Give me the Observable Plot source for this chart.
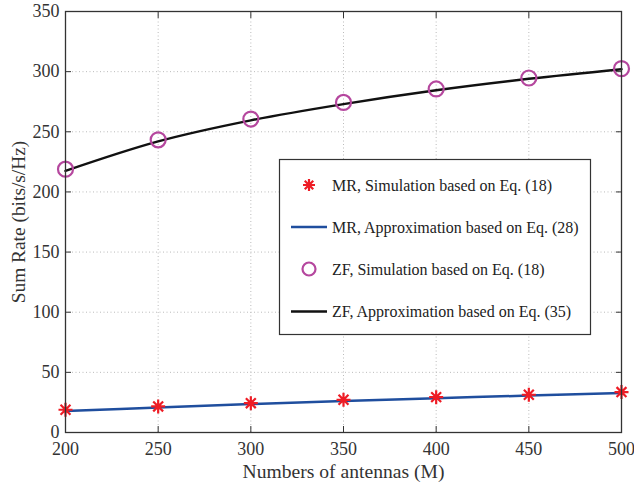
<!DOCTYPE html>
<html><head><meta charset="utf-8">
<script src="https://cdn.jsdelivr.net/npm/d3@7"></script>
<script src="https://cdn.jsdelivr.net/npm/@observablehq/plot@0.6"></script>
<style>body{margin:0;background:#fff}</style>
</head><body><div id="chart"></div>
<script>
const antennas = [200, 250, 300, 350, 400, 450, 500];
const mrSim = [18.9, 21.7, 24.4, 27.2, 29.4, 31.4, 33.6];
const mrApprox = [17.8, 20.8, 23.6, 26.2, 28.5, 30.7, 32.8];
const zfSim = [218.9, 243.3, 260.6, 274.4, 285.6, 294.7, 302.5];
const zfApprox = [217.5, 242, 259.5, 273, 284.5, 294, 302];
const xTicks = [200, 250, 300, 350, 400, 450, 500];
const yTicks = [0, 50, 100, 150, 200, 250, 300, 350];
const legendLabels = [
  "MR, Simulation based on Eq. (18)",
  "MR, Approximation based on Eq. (28)",
  "ZF, Simulation based on Eq. (18)",
  "ZF, Approximation based on Eq. (35)"
];
const xLabel = "Numbers of antennas (M)";
const yLabel = "Sum Rate (bits/s/Hz)";

const RED = "#ee1c25", BLUE = "#1f4e9e", MAG = "#b5479e", BLACK = "#111111", AX = "#333333";
const FONT = "'Liberation Serif', 'Times New Roman', serif";

const rows = (ys) => antennas.map((x, i) => ({x, y: ys[i]}));
const asterisk = {
  draw(ctx, size) {
    const r = Math.sqrt(size / Math.PI);
    for (let k = 0; k < 4; k++) {
      const a = k * Math.PI / 4;
      ctx.moveTo(-r * Math.cos(a), -r * Math.sin(a));
      ctx.lineTo(r * Math.cos(a), r * Math.sin(a));
    }
  }
};

const chart = Plot.plot({
  width: 634, height: 484,
  marginLeft: 65, marginRight: 13, marginTop: 11, marginBottom: 52,
  style: {fontFamily: FONT, fontSize: "18px", color: AX, background: "#fff"},
  x: {domain: [200, 500]},
  y: {domain: [0, 350]},
  marks: [
    Plot.gridX(xTicks, {stroke: "#bbbbbb", strokeOpacity: 1, strokeDasharray: "1,2.5"}),
    Plot.gridY(yTicks, {stroke: "#bbbbbb", strokeOpacity: 1, strokeDasharray: "1,2.5"}),
    Plot.line(rows(mrApprox), {x: "x", y: "y", stroke: BLUE, strokeWidth: 2.5, curve: "catmull-rom"}),
    Plot.line(rows(zfApprox), {x: "x", y: "y", stroke: BLACK, strokeWidth: 2.5, curve: "catmull-rom"}),
    Plot.dot(rows(mrSim), {x: "x", y: "y", symbol: asterisk, r: 7, stroke: RED, strokeWidth: 2.2, fill: "none"}),
    Plot.dot(rows(zfSim), {x: "x", y: "y", symbol: "circle", r: 7.5, stroke: MAG, strokeWidth: 2.2, fill: "none"}),
    Plot.frame({stroke: AX, strokeWidth: 1.3}),
    Plot.axisX(xTicks, {anchor: "bottom", tickSize: -6, tickPadding: 16, fontSize: 18, fill: AX, stroke: AX, label: null}),
    Plot.axisX(xTicks, {anchor: "top", tickSize: -6, tickFormat: () => "", stroke: AX, label: null}),
    Plot.axisY(yTicks, {anchor: "left", tickSize: -6, tickPadding: 12, fontSize: 18, fill: AX, stroke: AX, label: null}),
    Plot.axisY(yTicks, {anchor: "right", tickSize: -6, tickFormat: () => "", stroke: AX, label: null}),
    Plot.text([xLabel], {frameAnchor: "bottom", dy: 39, textAnchor: "middle", lineAnchor: "middle", fontSize: 19.6, fill: AX}),
    Plot.text([yLabel], {frameAnchor: "left", dx: -47, rotate: -90, textAnchor: "middle", lineAnchor: "middle", fontSize: 19.4, fill: AX})
  ]
});
document.getElementById("chart").appendChild(chart);

// Legend inside the plot area
const svg = d3.select(chart);
const g = svg.append("g").attr("font-family", FONT).attr("font-size", 16).attr("text-anchor", "start");
g.append("rect").attr("x", 279.5).attr("y", 159.5).attr("width", 311).attr("height", 175)
  .attr("fill", "#fff").attr("stroke", AX).attr("stroke-width", 1.2);
const rowY = [185, 227, 269, 311.5];
const kinds = ["star", "line", "circle", "line"];
const colors = [RED, BLUE, MAG, BLACK];
legendLabels.forEach((t, i) => {
  const y = rowY[i];
  if (kinds[i] === "line") {
    g.append("line").attr("x1", 291).attr("x2", 327).attr("y1", y).attr("y2", y)
      .attr("stroke", colors[i]).attr("stroke-width", 2.5);
  } else if (kinds[i] === "circle") {
    g.append("circle").attr("cx", 309).attr("cy", y).attr("r", 6.5)
      .attr("fill", "none").attr("stroke", colors[i]).attr("stroke-width", 2.2);
  } else {
    g.append("path").attr("transform", `translate(309,${y})`)
      .attr("d", d3.symbol(asterisk, Math.PI * 36)())
      .attr("fill", "none").attr("stroke", colors[i]).attr("stroke-width", 2.2);
  }
  g.append("text").attr("x", 332).attr("y", y).attr("dy", "0.35em").attr("text-anchor", "start")
    .attr("fill", "#222").text(t);
});
</script>
</body></html>
